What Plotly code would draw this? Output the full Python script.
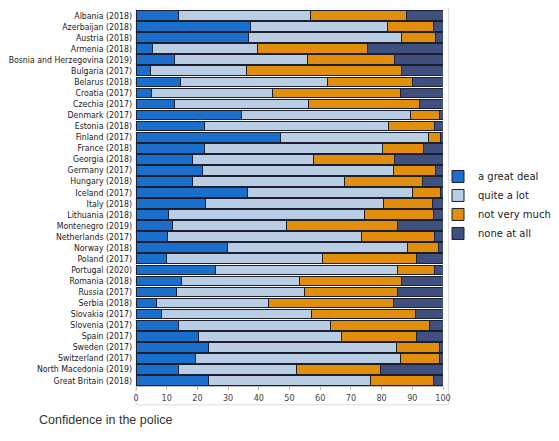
import plotly.graph_objects as go

countries = ['Albania (2018)', 'Azerbaijan (2018)', 'Austria (2018)', 'Armenia (2018)',
             'Bosnia and Herzegovina (2019)', 'Bulgaria (2017)', 'Belarus (2018)',
             'Croatia (2017)', 'Czechia (2017)', 'Denmark (2017)', 'Estonia (2018)',
             'Finland (2017)', 'France (2018)', 'Georgia (2018)', 'Germany (2017)',
             'Hungary (2018)', 'Iceland (2017)', 'Italy (2018)', 'Lithuania (2018)',
             'Montenegro (2019)', 'Netherlands (2017)', 'Norway (2018)', 'Poland (2017)',
             'Portugal (2020)', 'Romania (2018)', 'Russia (2017)', 'Serbia (2018)',
             'Slovakia (2017)', 'Slovenia (2017)', 'Spain (2017)', 'Sweden (2017)',
             'Switzerland (2017)', 'North Macedonia (2019)', 'Great Britain (2018)']

great_deal = [13.9, 37.3, 36.6, 5.3, 12.5, 4.7, 14.4, 5.2, 12.5, 34.4, 22.2, 47.0,
              22.2, 18.4, 21.8, 18.4, 36.3, 22.6, 10.7, 11.9, 10.4, 29.8, 9.8, 25.8,
              14.8, 13.1, 6.7, 8.2, 14.0, 20.2, 23.5, 19.3, 14.0, 23.5]
quite_a_lot = [43.0, 44.7, 49.8, 34.4, 43.5, 31.2, 48.1, 39.2, 43.8, 54.9, 60.1, 48.3,
               58.2, 39.4, 62.2, 49.6, 53.8, 58.1, 63.8, 37.2, 63.0, 58.6, 50.9, 59.4,
               38.4, 41.7, 36.6, 49.0, 49.3, 46.7, 61.5, 66.9, 38.3, 52.9]
not_very_much = [31.1, 15.0, 11.3, 35.7, 28.2, 50.5, 27.6, 41.8, 36.1, 9.5, 14.9, 4.0,
                 13.3, 26.4, 13.6, 25.4, 9.0, 15.9, 22.3, 36.1, 23.7, 10.1, 30.7, 12.1,
                 33.3, 30.5, 40.7, 33.9, 32.2, 24.6, 13.7, 12.5, 27.2, 20.4]
none_at_all = [12.0, 3.0, 2.3, 24.6, 15.8, 13.6, 9.9, 13.8, 7.6, 1.2, 2.8, 0.7,
               6.3, 15.8, 2.4, 6.6, 0.9, 3.4, 3.2, 14.8, 2.9, 1.5, 8.6, 2.7,
               13.5, 14.7, 16.0, 8.9, 4.5, 8.5, 1.3, 1.3, 20.5, 3.2]

series = [('a great deal', great_deal, '#1a6fcc'),
          ('quite a lot', quite_a_lot, '#b9cde5'),
          ('not very much', not_very_much, '#e08e0b'),
          ('none at all', none_at_all, '#3f4f7e')]

fig = go.Figure()
for name, vals, col in series:
    fig.add_trace(go.Bar(y=countries, x=vals, name=name, orientation='h',
                         marker=dict(color=col, line=dict(color='#1c1f2e', width=1))))

# page body has an 8px margin, so the figure is a bit smaller than the window
fig.update_layout(
    width=551, height=433,
    barmode='stack', bargap=0.12,
    plot_bgcolor='rgba(0,0,0,0)', paper_bgcolor='white',
    margin=dict(l=128, r=116, t=2, b=55, autoexpand=False),
    font=dict(family='DejaVu Sans Condensed, DejaVu Sans', size=9, color='#222'),
    xaxis=dict(range=[0, 100], dtick=10, showgrid=False, zeroline=False,
               showline=True, linecolor='#bbb', ticks='outside', ticklen=3,
               tickcolor='#bbb', tickfont=dict(size=9, color='#444'), automargin=False),
    yaxis=dict(autorange='reversed', showgrid=False, ticks='', showline=False,
               tickfont=dict(size=8.7, color='#222'), ticklabelstandoff=3,
               automargin=False),
    legend=dict(xref='container', yref='container', x=0.7804, y=0.6444,
                xanchor='left', yanchor='top', bgcolor='rgba(0,0,0,0)',
                font=dict(family='DejaVu Sans', size=10, color='#222'), tracegroupgap=0,
                itemwidth=30, traceorder='normal'),
    showlegend=True,
)

# light frame around the plot
fig.add_shape(type='rect', xref='paper', yref='paper', x0=0, x1=1.018, y0=-0.05, y1=1.006,
              line=dict(color='#dddddd', width=1), layer='below')

fig.add_annotation(text='Confidence in the police', xref='paper', yref='paper',
                   x=-0.322, y=-0.09, xanchor='left', yanchor='middle', showarrow=False,
                   font=dict(family='Liberation Sans', size=12.5, color='#333'))

fig.write_html('out.html')
